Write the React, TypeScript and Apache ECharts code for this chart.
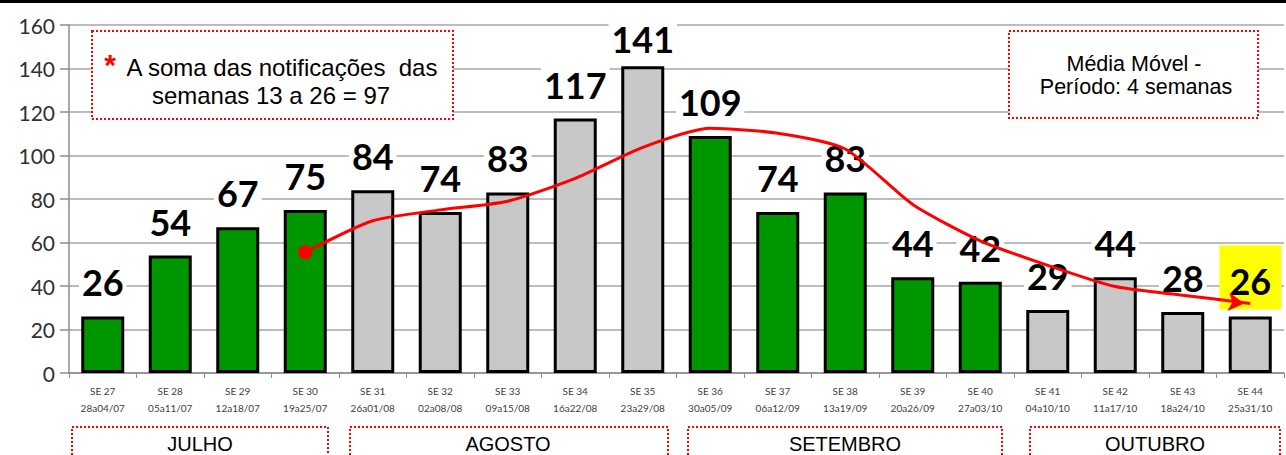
import React, { useEffect, useRef } from "react";
import * as echarts from "echarts";

const weeks = ["SE 27","SE 28","SE 29","SE 30","SE 31","SE 32","SE 33","SE 34","SE 35","SE 36","SE 37","SE 38","SE 39","SE 40","SE 41","SE 42","SE 43","SE 44"];
const dates = ["28a04/07","05a11/07","12a18/07","19a25/07","26a01/08","02a08/08","09a15/08","16a22/08","23a29/08","30a05/09","06a12/09","13a19/09","20a26/09","27a03/10","04a10/10","11a17/10","18a24/10","25a31/10"];
const cases = [26,54,67,75,84,74,83,117,141,109,74,83,44,42,29,44,28,26];
const isGreen = [true,true,true,true,false,false,false,false,false,true,true,true,true,true,false,false,false,false];
const movingAvg: (number | null)[] = [null,null,null,55.5,70,75,79,89.5,103.75,112.5,110.25,103,77.5,60.75,49.5,39.75,35.75,32];
const yTicks = { min: 0, max: 160, interval: 20 };
const months = ["JULHO","AGOSTO","SETEMBRO","OUTUBRO"];

const GREEN = "#009600";
const GRAY = "#c8c8c8";

export default function App() {
  const ref = useRef<HTMLDivElement>(null);
  useEffect(() => {
    if (!ref.current) return;
    const chart = echarts.init(ref.current, null, { renderer: "svg" });
    const lastIdx = cases.length - 1;
    const maxVal = Math.max(...cases);
    const barData = cases.map((v, i) => {
      const item: any = {
        value: v,
        itemStyle: { color: isGreen[i] ? GREEN : GRAY },
      };
      if (i === lastIdx) {
        item.label = {
          backgroundColor: "#ffff00",
          padding: [18, 10, 10, 10],
          distance: 7,
        };
      } else if (v === maxVal) {
        item.label = { distance: 9 };
      }
      return item;
    });
    const firstMA = movingAvg.findIndex((v) => v !== null);
    const lineData = movingAvg.map((v, i) => {
      if (i === firstMA) return { value: v, symbol: "circle", symbolSize: 14 };
      if (i === lastIdx)
        return { value: v, symbol: "arrow", symbolSize: [14, 16], symbolRotate: -96, symbolOffset: [-6, 0] };
      return { value: v, symbol: "none" };
    });
    const boxStyle = { fill: "#fff", stroke: "#ff0000", lineWidth: 2, lineDash: [2, 2] };
    const textFont = "Liberation Sans, Arial, sans-serif";
    const monthBoxes = [
      { x: 72, w: 256, cx: 200 },
      { x: 350, w: 318, cx: 508 },
      { x: 688, w: 314, cx: 845 },
      { x: 1030, w: 250, cx: 1155 },
    ];
    chart.setOption({
      animation: false,
      grid: { left: 69, right: 2, top: 25, bottom: 82, containLabel: false },
      xAxis: {
        type: "category",
        data: weeks,
        axisLine: { lineStyle: { color: "#8c8c8c", width: 1.5 } },
        axisTick: { show: true, length: 5, lineStyle: { color: "#8c8c8c" } },
        axisLabel: {
          formatter: (v: string, i: number) => v + "\n" + dates[i],
          fontFamily: "Lato, sans-serif",
          fontSize: 10,
          lineHeight: 17,
          color: "#404040",
          margin: 9,
        },
      },
      yAxis: {
        type: "value",
        min: yTicks.min,
        max: yTicks.max,
        interval: yTicks.interval,
        axisLine: { show: true, lineStyle: { color: "#8c8c8c", width: 1.5 } },
        axisTick: { show: true, length: 9, lineStyle: { color: "#8c8c8c", width: 1.5 } },
        splitLine: { lineStyle: { color: "#a6a6a6", width: 1.5 } },
        axisLabel: {
          fontFamily: "Lato, sans-serif",
          fontSize: 21,
          color: "#303030",
          margin: 14,
        },
      },
      series: [
        {
          type: "bar",
          data: barData,
          barWidth: 43,
          itemStyle: { borderColor: "#000", borderWidth: 3 },
          label: {
            show: true,
            position: "top",
            distance: 16,
            fontFamily: "Lato, sans-serif",
            fontWeight: "bold",
            fontSize: 36,
            lineHeight: 36,
            color: "#000",
            backgroundColor: "#fff",
            padding: [0, 3, 0, 3],
          },
          z: 2,
        },
        {
          type: "line",
          data: lineData,
          smooth: 0.22,
          connectNulls: false,
          lineStyle: { color: "#ff0000", width: 3 },
          itemStyle: { color: "#ff0000" },
          z: 5,
        },
      ],
      graphic: [
        { type: "rect", shape: { x: 0, y: 0, width: 1286, height: 3 }, style: { fill: "#000" }, z: 100 },
        { type: "rect", shape: { x: 92, y: 31, width: 361, height: 88 }, style: boxStyle, z: 50 },
        { type: "text", x: 110, y: 64, style: { text: "*", fill: "#ff0000", font: "bold 30px " + textFont, align: "center", verticalAlign: "middle" }, z: 51 },
        { type: "text", x: 282, y: 67, style: { text: "A soma das notificações  das", fill: "#000", font: "24px " + textFont, align: "center", verticalAlign: "middle" }, z: 51 },
        { type: "text", x: 271, y: 95, style: { text: "semanas 13 a 26 = 97", fill: "#000", font: "24px " + textFont, align: "center", verticalAlign: "middle" }, z: 51 },
        { type: "rect", shape: { x: 1009, y: 31, width: 249, height: 87 }, style: boxStyle, z: 50 },
        { type: "text", x: 1134, y: 64, style: { text: "Média Móvel -", fill: "#000", font: "21.5px " + textFont, align: "center", verticalAlign: "middle" }, z: 51 },
        { type: "text", x: 1136, y: 87, style: { text: "Período: 4 semanas", fill: "#000", font: "21.5px " + textFont, align: "center", verticalAlign: "middle" }, z: 51 },
        ...monthBoxes.flatMap((b, i) => [
          { type: "rect", shape: { x: b.x, y: 427, width: b.w, height: 40 }, style: boxStyle, z: 50 },
          { type: "text", x: b.cx, y: 444, style: { text: months[i], fill: "#000", font: "20px " + textFont, align: "center", verticalAlign: "middle" }, z: 51 },
        ]),
      ],
    });
    return () => chart.dispose();
  }, []);
  return (
    <div
      ref={ref}
      style={{ position: "fixed", left: 0, top: 0, width: 1286, height: 455, background: "#fff" }}
    />
  );
}
